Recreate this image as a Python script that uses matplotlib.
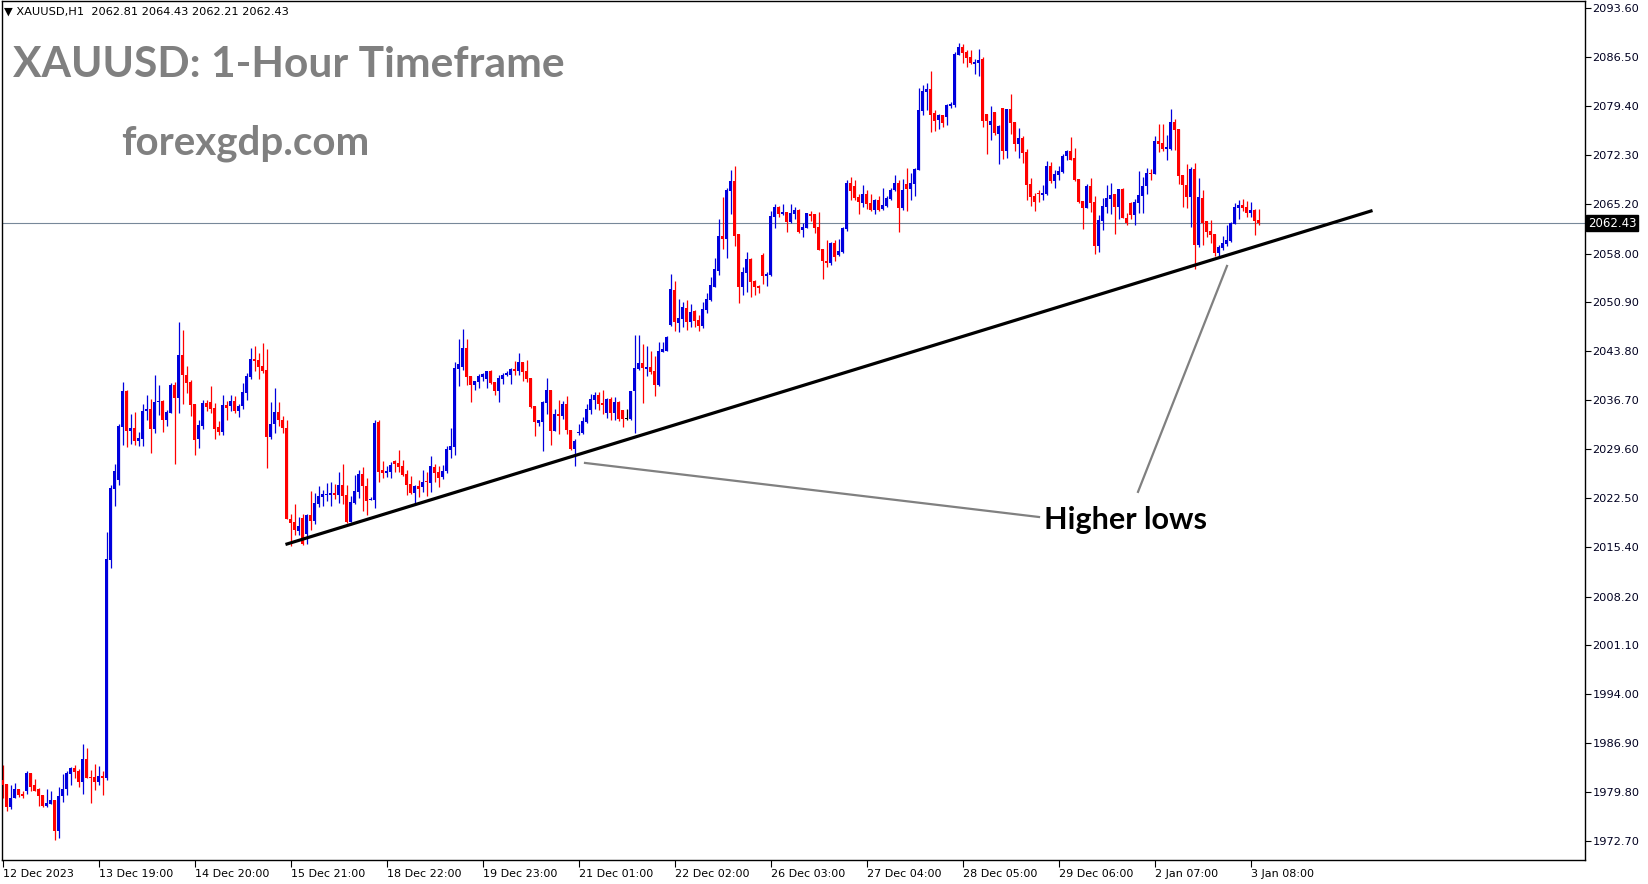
import numpy as np
import matplotlib
matplotlib.use("Agg")
import matplotlib.pyplot as plt

# hourly XAUUSD candles (bar index 0 = 12 Dec 2023)
opens = [
    1981.6, 1981.0, 1977.7, 1978.9, 1980.3, 1979.5, 1979.9, 1982.6, 1980.8, 1980.2,
    1979.4, 1977.8, 1978.1, 1978.7, 1974.2, 1979.2, 1980.2, 1982.5, 1983.3, 1982.9,
    1981.3, 1984.6, 1982.0, 1982.0, 1981.3, 1982.2, 1981.9, 2013.5, 2023.8, 2025.1,
    2032.8, 2038.1, 2032.3, 2032.7, 2030.8, 2031.1, 2035.1, 2035.4, 2032.6, 2036.4,
    2036.6, 2033.8, 2034.9, 2038.9, 2037.0, 2043.3, 2040.4, 2039.4, 2036.2, 2031.1,
    2033.0, 2036.3, 2036.5, 2035.6, 2032.8, 2032.1, 2036.0, 2035.8, 2036.6, 2035.2,
    2035.9, 2037.8, 2040.1, 2042.7, 2042.6, 2041.7, 2041.1, 2031.4, 2033.2, 2035.0,
    2033.9, 2032.7, 2019.5, 2019.0, 2017.7, 2019.6, 2017.3, 2020.0, 2019.2, 2021.6,
    2022.7, 2023.0, 2023.0, 2023.2, 2023.0, 2024.4, 2023.0, 2019.0, 2021.8, 2023.4,
    2026.0, 2024.3, 2022.2, 2022.2, 2033.6, 2026.6, 2026.2, 2026.3, 2027.9, 2027.6,
    2027.2, 2026.0, 2024.6, 2023.2, 2024.3, 2024.1, 2024.9, 2024.7, 2027.0, 2026.3,
    2025.6, 2026.4, 2029.5, 2029.9, 2041.3, 2041.5, 2044.3, 2040.2, 2038.9, 2039.4,
    2040.1, 2039.8, 2041.0, 2039.4, 2038.1, 2039.8, 2040.4, 2040.4, 2041.3, 2041.0,
    2042.3, 2041.0, 2039.9, 2035.9, 2033.4, 2033.6, 2036.3, 2038.2, 2032.3, 2034.7,
    2034.4, 2036.2, 2032.4, 2029.6, 2032.0, 2032.0, 2033.6, 2035.3, 2036.7, 2037.5,
    2036.3, 2034.9, 2036.9, 2034.9, 2036.5, 2035.3, 2034.0, 2034.0, 2038.1, 2041.3,
    2042.1, 2041.3, 2041.6, 2041.0, 2038.9, 2043.7, 2043.9, 2047.6, 2052.7, 2047.9,
    2048.5, 2050.1, 2048.1, 2049.7, 2048.4, 2047.5, 2049.8, 2051.3, 2053.2, 2055.5,
    2060.6, 2060.1, 2067.1, 2068.5, 2060.8, 2053.2, 2055.2, 2057.2, 2054.0, 2053.3,
    2057.8, 2054.8, 2054.9, 2063.3, 2064.8, 2063.8, 2064.0, 2062.6, 2063.8, 2064.3,
    2061.4, 2061.7, 2063.8, 2063.8, 2061.9, 2058.7, 2056.9, 2056.6, 2059.5, 2057.8,
    2058.2, 2061.6, 2068.2, 2067.8, 2066.2, 2065.3, 2066.7, 2065.3, 2064.3, 2065.8,
    2064.5, 2064.9, 2065.9, 2067.2, 2068.2, 2064.6, 2068.1, 2067.4, 2068.1, 2070.1,
    2078.7, 2081.5, 2081.9, 2078.4, 2077.4, 2078.1, 2077.8, 2079.4, 2079.6, 2086.8,
    2088.0, 2087.3, 2086.5, 2085.5, 2085.7, 2086.3, 2078.3, 2076.7, 2078.6, 2075.4,
    2079.1, 2072.9, 2079.0, 2077.1, 2073.9, 2074.8, 2072.8, 2068.1, 2066.4, 2066.8,
    2066.5, 2066.7, 2070.7, 2068.5, 2069.4, 2069.8, 2072.2, 2072.9, 2071.9, 2068.8,
    2065.6, 2064.6, 2067.8, 2065.5, 2059.1, 2062.7, 2064.8, 2065.9, 2066.7, 2064.8,
    2067.4, 2063.2, 2065.3, 2063.6, 2065.3, 2066.4, 2067.8, 2069.7, 2069.6, 2074.4,
    2074.0, 2073.2, 2073.2, 2077.1, 2076.1, 2069.4, 2068.0, 2066.2, 2070.3, 2059.2,
    2066.1, 2062.7, 2061.3, 2060.8, 2058.1, 2058.8, 2059.4, 2059.8, 2062.3, 2064.6,
    2065.1, 2064.8, 2063.9, 2064.3, 2062.81,
]
highs = [
    1983.7, 1981.0, 1980.8, 1981.1, 1980.3, 1980.0, 1982.9, 1982.6, 1981.7, 1980.4,
    1979.4, 1980.2, 1979.9, 1978.7, 1980.5, 1982.4, 1982.9, 1983.5, 1983.7, 1983.2,
    1986.8, 1986.2, 1983.0, 1983.9, 1983.6, 1982.9, 2017.6, 2024.4, 2027.5, 2033.3,
    2039.4, 2038.2, 2034.7, 2035.0, 2032.1, 2036.2, 2037.5, 2036.9, 2040.4, 2038.9,
    2036.7, 2035.3, 2039.2, 2039.4, 2048.1, 2046.9, 2041.7, 2039.7, 2036.2, 2033.8,
    2036.7, 2036.7, 2038.8, 2036.3, 2033.7, 2037.5, 2036.6, 2037.5, 2037.3, 2036.2,
    2039.2, 2040.7, 2044.3, 2044.6, 2043.6, 2045.0, 2044.2, 2036.5, 2038.5, 2036.5,
    2034.4, 2033.9, 2020.2, 2021.6, 2019.8, 2020.2, 2020.2, 2023.5, 2023.2, 2024.3,
    2023.7, 2024.7, 2024.9, 2024.6, 2026.3, 2027.5, 2024.4, 2022.8, 2025.9, 2026.6,
    2027.0, 2025.4, 2022.6, 2033.8, 2033.8, 2027.9, 2027.2, 2027.7, 2028.0, 2029.5,
    2028.0, 2026.6, 2025.7, 2024.4, 2025.1, 2026.6, 2026.3, 2028.6, 2027.5, 2027.2,
    2027.3, 2030.1, 2032.7, 2042.3, 2045.6, 2047.1, 2045.6, 2040.2, 2039.5, 2040.5,
    2040.7, 2041.0, 2041.1, 2039.4, 2040.4, 2040.7, 2041.0, 2041.4, 2042.4, 2043.6,
    2042.3, 2042.6, 2039.9, 2035.9, 2033.8, 2036.6, 2039.9, 2038.2, 2035.4, 2036.7,
    2036.6, 2037.3, 2032.4, 2031.1, 2033.3, 2034.3, 2036.2, 2037.6, 2037.9, 2037.9,
    2038.2, 2037.0, 2037.2, 2037.2, 2036.6, 2035.3, 2035.5, 2038.1, 2046.2, 2046.2,
    2044.9, 2044.6, 2043.9, 2043.1, 2045.2, 2045.2, 2046.0, 2055.0, 2054.0, 2051.4,
    2051.0, 2051.3, 2050.7, 2049.8, 2049.1, 2051.0, 2052.3, 2054.6, 2057.4, 2063.0,
    2066.2, 2067.5, 2070.1, 2070.7, 2060.8, 2056.1, 2058.2, 2057.4, 2054.2, 2053.4,
    2058.1, 2055.3, 2064.2, 2065.2, 2064.9, 2065.2, 2064.0, 2065.2, 2064.8, 2064.5,
    2062.4, 2063.9, 2064.2, 2063.8, 2064.0, 2058.7, 2060.0, 2059.7, 2060.0, 2060.1,
    2061.9, 2068.7, 2069.1, 2068.7, 2066.6, 2068.0, 2067.2, 2066.7, 2065.9, 2066.4,
    2067.5, 2066.4, 2067.5, 2069.4, 2068.7, 2068.8, 2070.4, 2069.7, 2070.4, 2082.0,
    2082.5, 2082.8, 2084.5, 2078.8, 2078.3, 2078.1, 2079.7, 2080.0, 2087.3, 2088.6,
    2088.4, 2087.6, 2087.6, 2086.3, 2087.7, 2086.5, 2078.3, 2079.4, 2078.6, 2076.7,
    2079.1, 2079.0, 2081.2, 2077.1, 2076.2, 2075.1, 2073.2, 2069.0, 2066.8, 2067.2,
    2068.0, 2071.4, 2071.3, 2070.1, 2070.7, 2072.5, 2073.0, 2074.9, 2073.3, 2068.8,
    2065.6, 2068.1, 2069.0, 2066.4, 2063.6, 2066.1, 2068.0, 2068.3, 2066.7, 2067.4,
    2067.5, 2063.9, 2065.5, 2065.9, 2070.0, 2069.1, 2070.4, 2070.3, 2075.1, 2076.8,
    2076.8, 2075.2, 2079.0, 2077.5, 2076.1, 2069.4, 2071.0, 2070.6, 2071.2, 2068.9,
    2067.2, 2062.7, 2062.9, 2060.8, 2059.2, 2060.6, 2062.2, 2062.6, 2065.3, 2065.8,
    2065.9, 2065.6, 2065.5, 2064.5, 2064.43,
]
lows = [
    1978.9, 1977.0, 1977.3, 1978.9, 1979.1, 1978.9, 1979.6, 1980.0, 1980.0, 1977.8,
    1977.7, 1977.6, 1978.1, 1972.9, 1973.2, 1978.4, 1979.4, 1980.9, 1981.9, 1980.5,
    1979.5, 1981.9, 1978.2, 1980.1, 1980.8, 1979.4, 1981.5, 2012.4, 2021.4, 2024.4,
    2030.2, 2029.9, 2030.4, 2030.2, 2030.1, 2030.1, 2033.9, 2029.1, 2031.9, 2034.6,
    2032.1, 2032.9, 2034.8, 2027.4, 2034.8, 2036.2, 2037.8, 2034.4, 2028.8, 2029.7,
    2032.6, 2035.2, 2034.9, 2031.1, 2031.7, 2031.7, 2033.9, 2035.1, 2034.9, 2034.2,
    2035.5, 2036.7, 2039.8, 2041.0, 2039.8, 2040.7, 2026.8, 2031.1, 2031.9, 2032.9,
    2031.9, 2019.4, 2015.5, 2017.2, 2017.2, 2015.7, 2015.8, 2017.9, 2018.7, 2021.2,
    2021.4, 2022.1, 2021.4, 2022.4, 2021.8, 2021.6, 2018.9, 2019.0, 2021.6, 2022.5,
    2020.6, 2020.0, 2022.2, 2021.0, 2024.9, 2025.4, 2025.6, 2025.4, 2026.3, 2026.3,
    2025.7, 2023.0, 2023.1, 2021.6, 2022.7, 2023.4, 2022.8, 2023.4, 2024.9, 2024.1,
    2025.3, 2026.2, 2028.3, 2028.8, 2038.8, 2041.1, 2038.9, 2036.5, 2038.2, 2038.5,
    2039.5, 2038.5, 2039.1, 2037.5, 2036.5, 2039.1, 2040.2, 2039.1, 2040.4, 2040.4,
    2039.5, 2039.4, 2035.6, 2031.5, 2033.0, 2029.3, 2034.7, 2030.2, 2032.3, 2031.8,
    2034.0, 2031.8, 2029.5, 2027.2, 2031.7, 2031.8, 2033.4, 2034.7, 2035.4, 2035.3,
    2034.7, 2034.1, 2033.8, 2033.8, 2033.7, 2032.8, 2033.8, 2033.8, 2032.0, 2041.1,
    2036.3, 2040.2, 2040.5, 2037.3, 2038.8, 2043.7, 2043.9, 2047.5, 2046.8, 2046.6,
    2047.3, 2046.9, 2047.3, 2047.3, 2046.8, 2047.2, 2049.4, 2051.1, 2053.2, 2054.9,
    2058.7, 2057.4, 2063.8, 2059.1, 2050.8, 2052.0, 2052.4, 2051.7, 2052.0, 2052.3,
    2053.6, 2053.3, 2054.8, 2061.7, 2063.3, 2063.6, 2061.1, 2062.4, 2063.0, 2061.0,
    2060.4, 2061.7, 2062.7, 2061.0, 2058.5, 2054.3, 2056.1, 2056.3, 2056.9, 2057.6,
    2058.1, 2061.3, 2065.8, 2065.8, 2063.8, 2064.8, 2064.5, 2064.2, 2063.7, 2064.2,
    2064.3, 2064.8, 2065.8, 2067.1, 2061.1, 2064.3, 2064.2, 2065.8, 2066.4, 2070.1,
    2078.1, 2078.8, 2075.7, 2075.8, 2076.1, 2076.4, 2076.7, 2079.1, 2079.3, 2086.8,
    2085.7, 2085.1, 2085.5, 2084.1, 2083.8, 2076.4, 2072.5, 2074.5, 2075.2, 2071.0,
    2071.7, 2071.9, 2075.4, 2072.9, 2071.9, 2071.2, 2065.8, 2064.9, 2064.2, 2065.5,
    2065.8, 2066.5, 2068.3, 2067.5, 2068.7, 2069.7, 2071.6, 2071.6, 2068.5, 2065.3,
    2061.6, 2064.6, 2064.0, 2057.9, 2058.2, 2061.4, 2063.9, 2063.8, 2060.8, 2063.0,
    2063.2, 2062.2, 2063.0, 2062.2, 2063.9, 2063.9, 2066.7, 2068.7, 2069.6, 2072.8,
    2072.9, 2071.6, 2073.0, 2073.0, 2068.1, 2064.8, 2064.6, 2061.9, 2055.8, 2059.0,
    2059.2, 2060.4, 2059.5, 2057.6, 2057.6, 2058.5, 2059.1, 2059.7, 2062.3, 2063.0,
    2064.2, 2063.3, 2063.3, 2060.7, 2062.21,
]
closes = [
    1980.8, 1977.6, 1979.0, 1980.3, 1979.4, 1979.3, 1982.6, 1980.6, 1980.0, 1979.3,
    1977.8, 1978.2, 1978.7, 1974.2, 1979.2, 1980.3, 1982.6, 1983.3, 1982.7, 1981.3,
    1984.6, 1981.9, 1981.9, 1981.3, 1982.2, 1981.9, 2013.7, 2024.0, 2026.4, 2032.9,
    2038.1, 2032.3, 2032.7, 2030.8, 2031.2, 2035.1, 2035.4, 2032.6, 2036.5, 2036.6,
    2033.9, 2035.0, 2038.9, 2037.0, 2043.3, 2040.3, 2039.2, 2036.0, 2031.0, 2033.1,
    2036.3, 2035.7, 2035.4, 2032.6, 2032.1, 2036.0, 2035.6, 2036.6, 2035.2, 2035.9,
    2037.9, 2040.2, 2042.7, 2042.4, 2041.5, 2041.0, 2031.4, 2033.3, 2035.0, 2033.8,
    2032.7, 2019.5, 2018.9, 2017.8, 2018.5, 2015.8, 2020.0, 2019.2, 2021.8, 2022.8,
    2023.1, 2023.1, 2023.2, 2023.0, 2024.4, 2022.8, 2019.0, 2021.9, 2023.5, 2026.0,
    2024.3, 2022.1, 2022.3, 2033.4, 2026.3, 2026.2, 2026.4, 2027.3, 2027.5, 2027.0,
    2025.9, 2024.4, 2023.2, 2024.3, 2023.8, 2024.9, 2024.8, 2027.2, 2026.2, 2025.4,
    2026.4, 2029.6, 2030.1, 2041.4, 2042.0, 2044.3, 2040.1, 2038.9, 2039.5, 2040.2,
    2040.5, 2041.0, 2039.2, 2038.1, 2039.9, 2040.4, 2040.7, 2041.3, 2041.0, 2042.3,
    2040.8, 2039.8, 2035.7, 2033.6, 2033.8, 2036.5, 2038.2, 2032.3, 2034.7, 2034.4,
    2036.2, 2032.4, 2029.6, 2030.8, 2032.1, 2033.7, 2035.4, 2036.9, 2037.5, 2036.2,
    2036.0, 2036.9, 2034.9, 2036.5, 2034.0, 2034.0, 2034.0, 2038.1, 2041.4, 2042.1,
    2041.4, 2041.6, 2040.8, 2038.9, 2043.9, 2044.2, 2045.9, 2052.9, 2048.1, 2048.7,
    2050.2, 2048.1, 2049.5, 2048.2, 2047.5, 2050.0, 2051.4, 2053.4, 2055.8, 2060.6,
    2060.1, 2067.2, 2068.5, 2060.6, 2053.2, 2055.3, 2057.2, 2053.9, 2053.2, 2053.0,
    2054.8, 2055.0, 2063.5, 2064.8, 2063.8, 2064.0, 2062.6, 2063.9, 2064.3, 2061.1,
    2061.9, 2063.9, 2063.5, 2061.7, 2058.5, 2056.9, 2056.6, 2059.5, 2057.5, 2058.4,
    2061.7, 2068.2, 2067.1, 2066.1, 2065.5, 2066.7, 2065.2, 2064.3, 2065.8, 2064.3,
    2065.1, 2066.1, 2067.2, 2068.2, 2064.6, 2067.2, 2067.4, 2068.2, 2070.3, 2078.8,
    2081.6, 2081.9, 2078.1, 2077.3, 2078.1, 2077.0, 2079.6, 2079.7, 2087.0, 2088.0,
    2087.1, 2086.4, 2085.7, 2085.8, 2086.1, 2077.3, 2077.3, 2077.3, 2075.5, 2076.5,
    2072.9, 2079.0, 2077.0, 2073.9, 2074.8, 2072.6, 2068.0, 2066.2, 2065.5, 2066.7,
    2066.8, 2070.7, 2068.5, 2069.6, 2070.0, 2072.2, 2072.9, 2071.6, 2068.7, 2065.5,
    2064.6, 2067.8, 2065.3, 2059.1, 2062.9, 2064.9, 2066.1, 2066.5, 2064.8, 2067.4,
    2063.2, 2062.4, 2063.6, 2065.5, 2066.5, 2067.8, 2069.7, 2069.6, 2074.4, 2073.9,
    2073.2, 2073.5, 2077.1, 2076.0, 2069.3, 2068.0, 2066.2, 2070.3, 2059.2, 2066.2,
    2062.4, 2061.1, 2060.7, 2058.1, 2059.0, 2059.5, 2060.0, 2062.4, 2064.8, 2065.1,
    2064.6, 2063.9, 2064.3, 2062.7, 2062.43,
]

x_labels = ["12 Dec 2023", "13 Dec 19:00", "14 Dec 20:00", "15 Dec 21:00",
            "18 Dec 22:00", "19 Dec 23:00", "21 Dec 01:00", "22 Dec 02:00",
            "26 Dec 03:00", "27 Dec 04:00", "28 Dec 05:00", "29 Dec 06:00",
            "2 Jan 07:00", "3 Jan 08:00"]
bars_per_label = 24
y_ticks = [2093.60, 2086.50, 2079.40, 2072.30, 2065.20, 2058.00, 2050.90, 2043.80,
           2036.70, 2029.60, 2022.50, 2015.40, 2008.20, 2001.10, 1994.00, 1986.90,
           1979.80, 1972.70]
last_price = 2062.43

# trend line and the two pointer lines (bar index, price)
trend_x = [71, 342]
trend_y = [2015.83, 2064.18]
pointer1_x = [145.5, 259]
pointer1_y = [2027.6, 2019.75]
pointer2_x = [306, 283.75]
pointer2_y = [2056.2, 2023.4]

BULL = "#0000dd"
BEAR = "#ff0000"

o = np.array(opens)
h = np.array(highs)
l = np.array(lows)
c = np.array(closes)
idx = np.arange(len(o))

fig = plt.figure(figsize=(16.49, 8.84), dpi=100)
ax = fig.add_axes([2 / 1649, 24 / 884, 1583 / 1649, 859 / 884])

colors = np.where(c > o, BULL, np.where(c < o, BEAR, "black"))
ax.vlines(idx, l, h, colors=colors, linewidth=0.9, zorder=2)
body_lo = np.minimum(o, c)
body_h = np.maximum(np.abs(c - o), 0.15)
ax.bar(idx, body_h, bottom=body_lo, width=0.75, color=colors, linewidth=0, zorder=3)

# current price line
ax.axhline(last_price, color="#778899", linewidth=0.8, zorder=1)

# trend line + pointers
ax.plot(trend_x, trend_y, color="black", linewidth=2.3, zorder=4)
ax.plot(pointer1_x, pointer1_y, color="#808080", linewidth=1.6, zorder=4)
ax.plot(pointer2_x, pointer2_y, color="#808080", linewidth=1.6, zorder=4)

ax.text(260.3, 2018.0, "Higher lows", fontsize=22, fontweight="bold",
        family="Lato", color="black", ha="left", va="baseline")
ax.text(0.007, 0.9115, "XAUUSD: 1-Hour Timeframe", transform=ax.transAxes,
        fontsize=30.6, fontweight="bold", family="Lato", color="#808080",
        ha="left", va="baseline")
ax.text(0.0752, 0.8212, "forexgdp.com", transform=ax.transAxes,
        fontsize=29, fontweight="bold", family="Lato", color="#808080",
        ha="left", va="baseline")

ax.set_xlim(-0.25, 395.5)
ax.set_ylim(1969.95, 2094.67)

# axes cosmetics, MT4 style
ax.yaxis.tick_right()
ax.set_yticks(y_ticks)
ax.set_yticklabels([f"{v:.2f}" for v in y_ticks], fontsize=8.2, color="#000020")
ax.tick_params(axis="y", length=4, width=0.8, pad=1.5)
ax.set_xticks(np.arange(len(x_labels)) * bars_per_label)
ax.set_xticklabels(x_labels, fontsize=8, ha="left")
ax.tick_params(axis="x", length=5, width=0.8, pad=1.5)
for s in ax.spines.values():
    s.set_linewidth(1.0)

ax.annotate(f"{last_price:.2f}", xy=(1.002, last_price),
            xycoords=("axes fraction", "data"), fontsize=8.5, color="white",
            ha="left", va="center",
            bbox=dict(boxstyle="square,pad=0.15", fc="black", ec="black"),
            annotation_clip=False)

fig.text(4 / 1649, 1 - 12 / 884, "\u25bc XAUUSD,H1  2062.81 2064.43 2062.21 2062.43",
         fontsize=8.2, va="center", ha="left")

fig.savefig("out.png", dpi=100)
